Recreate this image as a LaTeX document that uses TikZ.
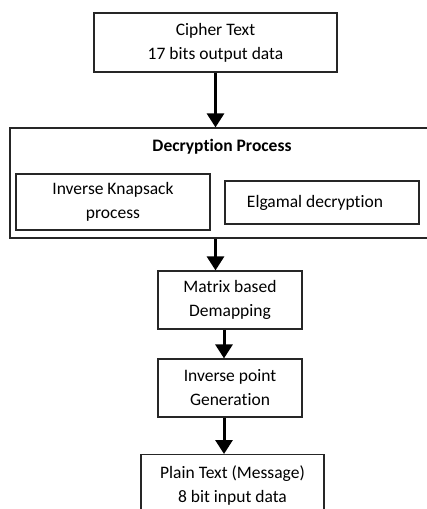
\documentclass[tikz,border=0pt]{standalone}
\usepackage{fontspec}
\setmainfont{Carlito}[Ligatures=CommonOff]
\usetikzlibrary{arrows.meta}

\tikzset{
  blk/.style={draw=black!85, line width=1.2pt, align=center, inner sep=0pt,
    font=\fontsize{17.5}{24}\selectfont, execute at begin node={\vspace*{6pt}}},
  flow/.style={line width=3pt, -{Triangle[length=14pt,width=17pt]}}
}

\begin{document}
\begin{tikzpicture}[x=1pt,y=-1pt]
\clip (0,0) rectangle (427,509);
\fill[white] (0,0) rectangle (427,509);
% boxes
\node[blk, minimum width=243pt, minimum height=59pt] (cipher) at (215.5,42.5) {Cipher Text\\17 bits output data};
\node[blk, minimum width=422pt, minimum height=110pt] (decrypt) at (221,183) {};
\node[align=center, font=\fontsize{17.5}{24}\selectfont\bfseries] (dtitle) at (222,147) {Decryption Process};
\node[blk, minimum width=194pt, minimum height=56pt] (knap) at (113,202) {Inverse Knapsack\\process};
\node[blk, minimum width=194pt, minimum height=43pt] (elg) at (322,202.5) {\hspace*{-14pt}Elgamal decryption};
\node[blk, minimum width=144pt, minimum height=58pt] (matrix) at (230,300) {Matrix based\\Demapping};
\node[blk, minimum width=144pt, minimum height=58pt] (invpt) at (230,388) {Inverse point\\Generation};
\node[blk, minimum width=183pt, minimum height=62pt, anchor=north] (plain) at (232.5,454) {Plain Text (Message)\\8 bit input data};
% arrows
\draw[flow] (cipher.south) -- (cipher.south |- decrypt.north);
\draw[flow] (cipher.south |- decrypt.south) -- (cipher.south |- matrix.north);
\draw[flow] ([xshift=-6pt]matrix.south) -- ([xshift=-6pt]invpt.north);
\draw[flow] ([xshift=-6pt]invpt.south) -- ([xshift=-6pt]invpt.south |- plain.north);
\end{tikzpicture}
\end{document}
